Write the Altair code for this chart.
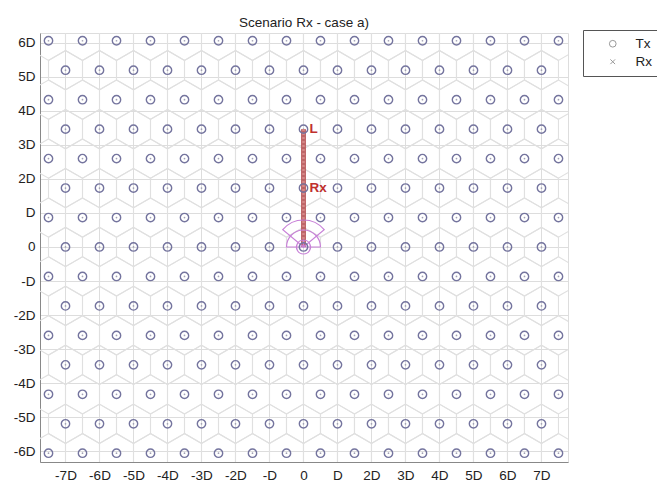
import math
import altair as alt
import pandas as pd

# Hexagonal cell layout (inter-site distance D = 1)
ROW_H = math.sqrt(3) / 2
row_index = [-7, -6, -5, -4, -3, -2, -1, 0, 1, 2, 3, 4, 5, 6, 7]
even_cols = [-7, -6, -5, -4, -3, -2, -1, 0, 1, 2, 3, 4, 5, 6, 7]
odd_cols = [-7.5, -6.5, -5.5, -4.5, -3.5, -2.5, -1.5, -0.5,
            0.5, 1.5, 2.5, 3.5, 4.5, 5.5, 6.5, 7.5]

# Receiver track along the vertical through the serving site
rx_track_rows = [0, 4]           # from the site (row 0) up to row 4
rx_label_row = 2
l_label_row = 4

tick_values = [-7, -6, -5, -4, -3, -2, -1, 0, 1, 2, 3, 4, 5, 6, 7]
y_tick_values = [-6, -5, -4, -3, -2, -1, 0, 1, 2, 3, 4, 5, 6]

sites = []
for r in row_index:
    cols = even_cols if r % 2 == 0 else odd_cols
    for c in cols:
        sites.append({"x": c, "y": r * ROW_H, "kind": "Tx"})
sites_df = pd.DataFrame(sites)

track_df = pd.DataFrame({"x": [0], "y": [rx_track_rows[0] * ROW_H],
                         "y2": [rx_track_rows[1] * ROW_H]})
labels_df = pd.DataFrame({"x": [0, 0],
                          "y": [l_label_row * ROW_H, rx_label_row * ROW_H],
                          "txt": ["L", "Rx"]})
origin_df = pd.DataFrame({"x": [0], "y": [0]})

W, H = 528, 429
x_scale = alt.Scale(domain=[-7.75, 7.78], nice=False, zero=False)
y_scale = alt.Scale(domain=[-6.32, 6.29], nice=False, zero=False)

label_expr = ("datum.value == 0 ? '0' : datum.value == 1 ? 'D' : "
              "datum.value == -1 ? '-D' : datum.value + 'D'")

axis_style = dict(title=None, grid=True, ticks=False, labelOverlap=False,
                  labelFontSize=13.5, labelColor="#222222",
                  labelFont="Liberation Sans", labelExpr=label_expr)

X = alt.X("x:Q", scale=x_scale,
          axis=alt.Axis(values=tick_values, labelPadding=6, **axis_style))
Y = alt.Y("y:Q", scale=y_scale,
          axis=alt.Axis(values=y_tick_values, labelPadding=5, **axis_style))

HEX = "M0,-1L0.866,-0.5L0.866,0.5L0,1L-0.866,0.5L-0.866,-0.5Z"
CROSS = "M-0.7,-0.7L0.7,0.7M0.7,-0.7L-0.7,0.7"

base = alt.Chart(sites_df).encode(x=X, y=Y)

# cell outlines, clipped to the plotting area
cells = base.mark_point(shape=HEX, size=1541, filled=False, clip=True,
                        stroke="#e0e0e0", strokeWidth=1.1, opacity=1)

dots = base.mark_point(shape="circle", size=3, filled=True,
                       color="#a0a0b4", opacity=1)

track = alt.Chart(track_df).mark_rule(
    color="#b8585a", strokeWidth=5, opacity=0.9
).encode(x=X, y=Y, y2="y2:Q")

track_tex = alt.Chart(track_df).mark_rule(
    color="#d88c8c", strokeWidth=2.5, strokeDash=[2, 2], opacity=0.9
).encode(x=X, y=Y, y2="y2:Q")

tx = base.mark_point(size=70, filled=False, strokeWidth=1.4, opacity=1).encode(
    shape=alt.Shape("kind:N",
                    scale=alt.Scale(domain=["Tx", "Rx"], range=["circle", CROSS]),
                    legend=alt.Legend(title=None, orient="none",
                                      legendX=543, legendY=-3,
                                      strokeColor="#555555", padding=7,
                                      symbolOffset=16, labelOffset=16,
                                      symbolSize=45, symbolStrokeWidth=1,
                                      symbolStrokeColor="#999999",
                                      labelFontSize=13.5, labelColor="#222222",
                                      labelFont="Liberation Sans",
                                      rowPadding=3, symbolType="circle")),
    stroke=alt.value("#74749e"),
)

arc_style = dict(fill="transparent", stroke="#c880d8", strokeWidth=1.2)

wedge = alt.Chart(origin_df).mark_arc(**arc_style).encode(
    x=X, y=Y, theta=alt.value(5.41), theta2=alt.value(7.156),
    radius=alt.value(27), radius2=alt.value(0))

half = alt.Chart(origin_df).mark_arc(**arc_style).encode(
    x=X, y=Y, theta=alt.value(4.712), theta2=alt.value(7.854),
    radius=alt.value(17), radius2=alt.value(0))

ring = alt.Chart(origin_df).mark_arc(**arc_style).encode(
    x=X, y=Y, theta=alt.value(0), theta2=alt.value(6.283),
    radius=alt.value(7), radius2=alt.value(0))

labels = alt.Chart(labels_df).mark_text(
    align="left", baseline="middle", dx=6, fontSize=13.5, fontWeight="bold",
    color="#c0302e", font="Liberation Sans"
).encode(x=X, y=Y, text="txt:N")

chart = alt.layer(cells, dots, track, track_tex, wedge, half, ring, tx, labels).properties(
    width=W, height=H,
    title=alt.TitleParams("Scenario Rx - case a)", fontSize=13.5, fontWeight="normal",
                          font="Liberation Sans", color="#222222", offset=0),
    autosize=alt.AutoSizeParams(type="none"),
    padding={"left": 40, "top": 33, "right": 89, "bottom": 21},
).configure_view(strokeWidth=0, stroke="transparent").configure_axis(
    domainColor="#666666", domainWidth=1.5,
    gridColor="#aaaaaa", gridDash=[1.5, 2.5], gridWidth=1,
).configure(background="white")

chart.save("out.html", embed_options={"renderer": "svg", "actions": False})
